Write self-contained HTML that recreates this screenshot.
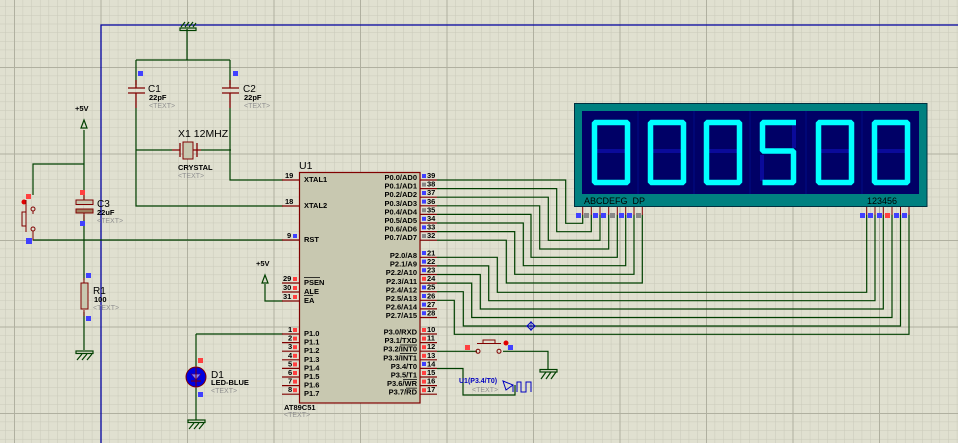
<!DOCTYPE html>
<html><head><meta charset="utf-8"><style>
html,body{margin:0;padding:0;background:#e0e0d0;}
svg{display:block;}
text{font-family:"Liberation Sans",sans-serif;}
.s{font-size:7.5px;font-weight:bold;fill:#000;}
.g{font-size:7px;fill:#909090;}
.n{font-size:7.5px;font-weight:bold;fill:#000;}
</style></head><body>
<svg width="958" height="443" viewBox="0 0 958 443" xmlns="http://www.w3.org/2000/svg">
<defs>
<pattern id="mn" width="8.65" height="8.65" patternUnits="userSpaceOnUse" patternTransform="translate(14,67)">
<path d="M0 0V8.65M0 0H8.65" stroke="#c9c9b9" stroke-width="1" fill="none"/>
</pattern>
<pattern id="mj" width="86.5" height="86.5" patternUnits="userSpaceOnUse" patternTransform="translate(14,67)">
<path d="M0 0V86.5M0 0H86.5" stroke="#b0b0a0" stroke-width="2" fill="none"/>
</pattern>
</defs>
<rect width="958" height="443" fill="#e0e0d0"/>
<rect width="958" height="443" fill="url(#mn)"/>
<rect width="958" height="443" fill="url(#mj)"/>

<path d="M101 443V25H958" stroke="#0000a0" stroke-width="1.3" fill="none"/>

<g stroke="#004000" stroke-width="1.2" fill="none">
<path d="M187 29V60M136 60H230M136 60V85M230 60V85M136 108V206H283M230 108V180H283M136 150H172M201 150H231"/>
<path d="M84 130V200M84 164H33V195M84 215V280M84 312V350M33 240H283"/>
<path d="M265 284V301H283"/>
<path d="M196 334H283M196 334V366M196 388V420"/>
<path d="M437 180H565.7V223.3H582.7V215"/>
<path d="M437 188.6H556.7V231.7H591.3V215"/>
<path d="M437 197.2H548.3V240.3H600V215"/>
<path d="M437 205.8H539.7V249H608.7V215"/>
<path d="M437 214.4H531V257.3H617.3V215"/>
<path d="M437 223H523.3V265.7H625.7V215"/>
<path d="M437 231.6H514.7V274.3H634V215"/>
<path d="M437 240.2H506.3V283H642.3V215"/>
<path d="M437 257.3H497.3V292.3H866.7V215"/>
<path d="M437 265.9H488.7V300.7H875V215"/>
<path d="M437 274.5H480.3V309H883.3V215"/>
<path d="M437 283.1H471.7V317.5H892V215"/>
<path d="M437 291.7H463.3V326H900.5V215"/>
<path d="M437 300.3H454.3V334.3H909V215"/>
<path d="M437 351.3H477M503 351.3H548V370"/>
<path d="M437 368.5H463V395H515V385"/>
</g>

<g stroke="#004000" stroke-width="1.2" fill="none">
<rect x="180" y="28" width="16" height="2.5"/>
<path d="M181 27l4-5M185 27l4-5M189 27l4-5M193 27l3-4"/>
<rect x="76" y="351" width="17" height="2.5"/>
<path d="M77 360l5-6M82 360l5-6M87 360l5-6"/>
<rect x="188" y="420" width="17" height="2.5"/>
<path d="M189 429l5-6M194 429l5-6M199 429l5-6"/>
<rect x="540" y="369.5" width="17" height="2.5"/>
<path d="M541 379l5-7M546 379l5-7M551 379l5-7"/>
</g>

<g stroke="#800000" stroke-width="1.3">
<path d="M128 88H145M128 93H145M136 80V88M136 93V108"/>
<path d="M222 88H239M222 93H239M230 80V88M230 93V108"/>
<path d="M172 150H180M193 150H201M180 143V157M197 143V157"/>
</g>
<rect x="183" y="142" width="10" height="17" fill="#c8c8b0" stroke="#800000"/>
<rect x="138" y="71" width="5" height="5" fill="#4040ff"/>
<rect x="233" y="71" width="5" height="5" fill="#4040ff"/>
<text x="148" y="92" style="font-size:10px" fill="#000">C1</text>
<text x="149" y="100" class="s">22pF</text>
<text x="149" y="108" class="g">&lt;TEXT&gt;</text>
<text x="243" y="92" style="font-size:10px" fill="#000">C2</text>
<text x="244" y="100" class="s">22pF</text>
<text x="244" y="108" class="g">&lt;TEXT&gt;</text>
<text x="178" y="137" style="font-size:10.5px" fill="#000">X1 12MHZ</text>
<text x="178" y="170" class="s">CRYSTAL</text>
<text x="178" y="178" class="g">&lt;TEXT&gt;</text>

<text x="75" y="111" class="s">+5V</text>
<path d="M84 120l-3 8h6z" fill="none" stroke="#004000" stroke-width="1.2"/>
<text x="256" y="266" class="s">+5V</text>
<path d="M265 275l-3 8h6z" fill="none" stroke="#004000" stroke-width="1.2"/>

<rect x="80" y="190" width="5" height="5" fill="#ff4040"/>
<rect x="76" y="200" width="17" height="4.5" fill="#c8c8b0" stroke="#800000"/>
<rect x="76" y="209" width="17" height="4" fill="#a08060" stroke="#800000"/>
<path d="M84 195V200M84 213V220" stroke="#800000"/>
<rect x="80" y="221" width="5" height="5" fill="#4040ff"/>
<text x="97" y="207" style="font-size:10px" fill="#000">C3</text>
<text x="97" y="215" class="s">22uF</text>
<text x="97" y="223" class="g">&lt;TEXT&gt;</text>

<rect x="86" y="273" width="5" height="5" fill="#4040ff"/>
<path d="M84 278V283M84 310V316" stroke="#800000"/>
<rect x="81" y="283" width="7" height="26" fill="#c8c8b0" stroke="#800000"/>
<rect x="86" y="316" width="5" height="5" fill="#4040ff"/>
<text x="93" y="294" style="font-size:10px" fill="#000">R1</text>
<text x="94" y="302" class="s">100</text>
<text x="93" y="310" class="g">&lt;TEXT&gt;</text>

<rect x="26" y="194" width="5" height="5" fill="#ff4040"/>
<circle cx="24" cy="202" r="2.5" fill="#e00000"/>
<rect x="22" y="212" width="4" height="14" fill="none" stroke="#800000"/>
<path d="M26 200V213M26 226V232" stroke="#800000"/>
<circle cx="33" cy="209" r="2" fill="none" stroke="#800000"/>
<circle cx="33" cy="229" r="2" fill="none" stroke="#800000"/>
<path d="M33 211V214M33 231V240" stroke="#800000"/>
<rect x="26" y="238" width="6" height="6" fill="#4040ff"/>

<rect x="198" y="358" width="5" height="5" fill="#ff4040"/>
<circle cx="196" cy="377" r="10" fill="#0000e0" stroke="#800000" stroke-width="1"/>
<path d="M191 374h10l-5 6z" fill="#8080ff" stroke="#400080" stroke-width="0.8"/>
<path d="M191 381h10M196 366V388" stroke="#800000" stroke-width="1"/>
<rect x="198" y="392" width="5" height="5" fill="#4040ff"/>
<text x="211" y="378" style="font-size:10px" fill="#000">D1</text>
<text x="211" y="385" class="s">LED-BLUE</text>
<text x="211" y="393" class="g">&lt;TEXT&gt;</text>

<text x="299" y="169" style="font-size:10.5px" fill="#000">U1</text>
<rect x="299.5" y="172.5" width="120.5" height="230.5" fill="#c8c8b0" stroke="#800000" stroke-width="1.2"/>
<g stroke="#800000" stroke-width="1.2">
<path d="M282 180H300M282 206H300M282 240H300M282 283H300M282 292H300M282 301H300"/>
<path d="M282 334H300M282 342.6H300M282 351.2H300M282 359.8H300M282 368.4H300M282 377H300M282 385.6H300M282 394.2H300"/>
<path d="M420 180H437M420 188.6H437M420 197.2H437M420 205.8H437M420 214.4H437M420 223H437M420 231.6H437M420 240.2H437"/>
<path d="M420 257.3H437M420 265.9H437M420 274.5H437M420 283.1H437M420 291.7H437M420 300.3H437M420 308.9H437M420 317.5H437"/>
<path d="M420 334H437M420 342.6H437M420 351.2H437M420 359.8H437M420 368.4H437M420 377H437M420 385.6H437M420 394.2H437"/>
</g>
<g class="n">
<text x="285" y="178">19</text><text x="285" y="204">18</text><text x="287" y="238">9</text>
<text x="283" y="281">29</text><text x="283" y="290">30</text><text x="283" y="299">31</text>
<text x="288" y="332">1</text><text x="288" y="340.6">2</text><text x="288" y="349.2">3</text><text x="288" y="357.8">4</text>
<text x="288" y="366.4">5</text><text x="288" y="375">6</text><text x="288" y="383.6">7</text><text x="288" y="392.2">8</text>
</g>
<g fill="#4040ff"><rect x="293" y="234" width="4" height="4"/></g>
<g fill="#ff4040">
<rect x="293" y="277" width="4" height="4"/><rect x="293" y="286" width="4" height="4"/><rect x="293" y="295" width="4" height="4"/>
<rect x="293" y="328" width="4" height="4"/><rect x="293" y="336.6" width="4" height="4"/><rect x="293" y="345.2" width="4" height="4"/><rect x="293" y="353.8" width="4" height="4"/>
<rect x="293" y="362.4" width="4" height="4"/><rect x="293" y="371" width="4" height="4"/><rect x="293" y="379.6" width="4" height="4"/><rect x="293" y="388.2" width="4" height="4"/>
</g>
<g class="s">
<text x="304" y="182">XTAL1</text><text x="304" y="208">XTAL2</text><text x="304" y="242">RST</text>
<text x="304" y="285">PSEN</text><text x="304" y="294">ALE</text><text x="304" y="303">EA</text>
<text x="304" y="336">P1.0</text><text x="304" y="344.6">P1.1</text><text x="304" y="353.2">P1.2</text><text x="304" y="361.8">P1.3</text>
<text x="304" y="370.4">P1.4</text><text x="304" y="379">P1.5</text><text x="304" y="387.6">P1.6</text><text x="304" y="396.2">P1.7</text>
</g>
<path d="M304 277.5H320M304 295.5H313" stroke="#000" stroke-width="0.8"/>
<g class="s" text-anchor="end">
<text x="417" y="180">P0.0/AD0</text><text x="417" y="188.6">P0.1/AD1</text><text x="417" y="197.2">P0.2/AD2</text><text x="417" y="205.8">P0.3/AD3</text>
<text x="417" y="214.4">P0.4/AD4</text><text x="417" y="223">P0.5/AD5</text><text x="417" y="231.6">P0.6/AD6</text><text x="417" y="240.2">P0.7/AD7</text>
<text x="417" y="258">P2.0/A8</text><text x="417" y="266.6">P2.1/A9</text><text x="417" y="275.2">P2.2/A10</text><text x="417" y="283.8">P2.3/A11</text>
<text x="417" y="292.4">P2.4/A12</text><text x="417" y="301">P2.5/A13</text><text x="417" y="309.6">P2.6/A14</text><text x="417" y="318.2">P2.7/A15</text>
<text x="417" y="334.5">P3.0/RXD</text><text x="417" y="343.1">P3.1/TXD</text><text x="417" y="351.7">P3.2/INT0</text><text x="417" y="360.3">P3.3/INT1</text>
<text x="417" y="368.9">P3.4/T0</text><text x="417" y="377.5">P3.5/T1</text><text x="417" y="386.1">P3.6/WR</text><text x="417" y="394.7">P3.7/RD</text>
</g>
<path d="M400 345H417M400 353.6H417M403 379.5H417M406 388.1H417" stroke="#000" stroke-width="0.7"/>
<g fill="#4040ff">
<rect x="422" y="174" width="4" height="4"/><rect x="422" y="191" width="4" height="4"/><rect x="422" y="199.6" width="4" height="4"/><rect x="422" y="216.8" width="4" height="4"/><rect x="422" y="225.4" width="4" height="4"/>
<rect x="422" y="251" width="4" height="4"/><rect x="422" y="259.6" width="4" height="4"/><rect x="422" y="268.2" width="4" height="4"/><rect x="422" y="285.4" width="4" height="4"/><rect x="422" y="294" width="4" height="4"/><rect x="422" y="302.6" width="4" height="4"/><rect x="422" y="311.2" width="4" height="4"/>
<rect x="422" y="362" width="4" height="4"/>
</g>
<g fill="#888">
<rect x="422" y="182.6" width="4" height="4"/><rect x="422" y="208.2" width="4" height="4"/><rect x="422" y="234" width="4" height="4"/>
</g>
<g fill="#ff4040">
<rect x="422" y="276.8" width="4" height="4"/>
<rect x="422" y="328" width="4" height="4"/><rect x="422" y="336.6" width="4" height="4"/><rect x="422" y="345.2" width="4" height="4"/><rect x="422" y="353.8" width="4" height="4"/>
<rect x="422" y="371" width="4" height="4"/><rect x="422" y="379.6" width="4" height="4"/><rect x="422" y="388.2" width="4" height="4"/>
</g>
<g class="n">
<text x="427" y="178">39</text><text x="427" y="186.6">38</text><text x="427" y="195.2">37</text><text x="427" y="203.8">36</text>
<text x="427" y="212.4">35</text><text x="427" y="221">34</text><text x="427" y="229.6">33</text><text x="427" y="238.2">32</text>
<text x="427" y="255.3">21</text><text x="427" y="263.9">22</text><text x="427" y="272.5">23</text><text x="427" y="281.1">24</text>
<text x="427" y="289.7">25</text><text x="427" y="298.3">26</text><text x="427" y="306.9">27</text><text x="427" y="315.5">28</text>
<text x="427" y="332">10</text><text x="427" y="340.6">11</text><text x="427" y="349.2">12</text><text x="427" y="357.8">13</text>
<text x="427" y="366.4">14</text><text x="427" y="375">15</text><text x="427" y="383.6">16</text><text x="427" y="392.2">17</text>
</g>
<text x="284" y="410" class="s">AT89C51</text>
<text x="284" y="417" class="g">&lt;TEXT&gt;</text>

<rect x="465" y="345" width="5" height="5" fill="#ff4040"/>
<circle cx="478" cy="351.3" r="2" fill="none" stroke="#800000"/>
<circle cx="499" cy="351.3" r="2" fill="none" stroke="#800000"/>
<path d="M477 343.5H501M483 343.5V340H495V343.5" stroke="#800000" fill="none"/>
<circle cx="506" cy="343" r="2.5" fill="#e00000"/>
<rect x="508" y="345" width="5" height="5" fill="#4040ff"/>

<path d="M531 322l4 4-4 4-4-4z" fill="none" stroke="#0000c0"/>
<path d="M531 321V331M526 326H536" stroke="#0000c0" stroke-width="0.7"/>

<text x="459" y="383" style="font-size:7px;font-weight:bold" fill="#0000c0">U1(P3.4/T0)</text>
<text x="472" y="392" class="g">&lt;TEXT&gt;</text>
<path d="M503 381l10 4-7 5zM513 385V392M517 392V382H521V392H526V382H531V392" fill="none" stroke="#0000c0" stroke-width="1"/>

<rect x="574.5" y="103.5" width="352.5" height="103" fill="#008080" stroke="#003040"/>
<rect x="582" y="111" width="337" height="83" fill="#000066"/>
<g stroke="#001090" stroke-width="0.8">
<path d="M638 111V194M694 111V194M750 111V194M806 111V194M862 111V194"/>
</g>
<g fill="none" stroke="#0a0a9a" stroke-width="4">
<path d="M597 151H625M653 151H681M709 151H737M821 151H849M877 151H905"/>
<path d="M762 155V181M794 125V148"/>
</g>
<g fill="none" stroke="#00ffff" stroke-width="5.5" stroke-linejoin="bevel">
<rect x="594.5" y="122.5" width="33" height="60"/>
<rect x="650.5" y="122.5" width="33" height="60"/>
<rect x="706.5" y="122.5" width="33" height="60"/>
<path d="M796 122.5H762.5V151H793.5V182.5H762.5"/>
<rect x="818.5" y="122.5" width="33" height="60"/>
<rect x="874.5" y="122.5" width="33" height="60"/>
</g>
<text x="584" y="204" style="font-size:9px" fill="#000">ABCDEFG&#160;&#160;DP</text>
<text x="867" y="204" style="font-size:9px" fill="#000">123456</text>
<g stroke="#800000" stroke-width="1">
<path d="M582.7 207V215M591.3 207V215M600 207V215M608.7 207V215M617.3 207V215M625.7 207V215M634 207V215M642.3 207V215"/>
<path d="M866.7 207V215M875 207V215M883.3 207V215M892 207V215M900.5 207V215M909 207V215"/>
</g>
<g>
<rect x="576" y="213" width="5" height="5" fill="#4040ff"/><rect x="584" y="213" width="5" height="5" fill="#888"/>
<rect x="593" y="213" width="5" height="5" fill="#4040ff"/><rect x="601" y="213" width="5" height="5" fill="#4040ff"/>
<rect x="610" y="213" width="5" height="5" fill="#888"/><rect x="619" y="213" width="5" height="5" fill="#4040ff"/>
<rect x="627" y="213" width="5" height="5" fill="#4040ff"/><rect x="636" y="213" width="5" height="5" fill="#888"/>
<rect x="860" y="213" width="5" height="5" fill="#4040ff"/><rect x="868" y="213" width="5" height="5" fill="#4040ff"/>
<rect x="877" y="213" width="5" height="5" fill="#4040ff"/><rect x="885" y="213" width="5" height="5" fill="#ff4040"/>
<rect x="894" y="213" width="5" height="5" fill="#4040ff"/><rect x="902" y="213" width="5" height="5" fill="#4040ff"/>
</g>
</svg>
</body></html>
